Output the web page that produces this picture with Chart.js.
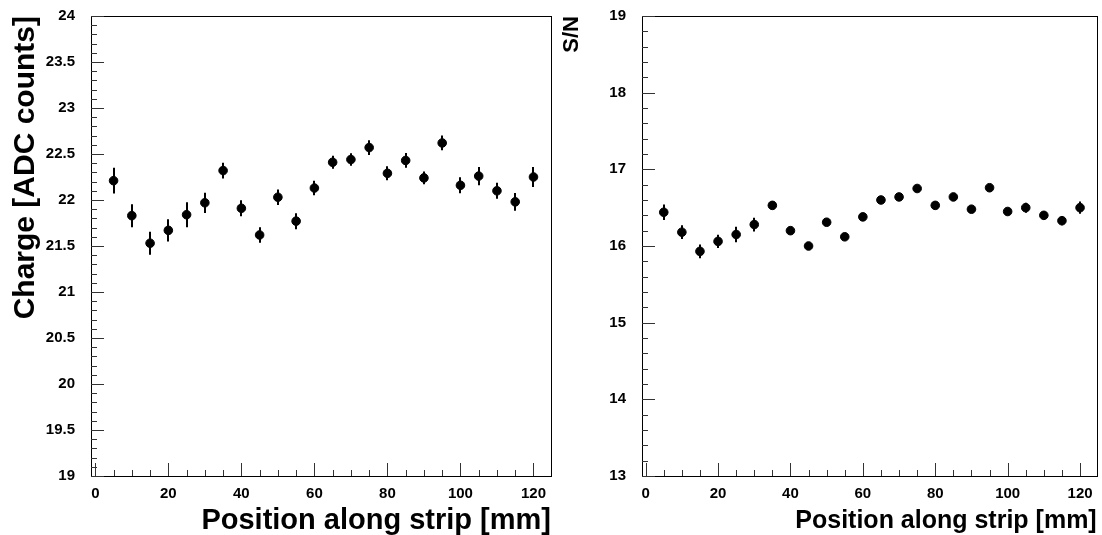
<!DOCTYPE html>
<html>
<head>
<meta charset="utf-8">
<script src="https://cdn.jsdelivr.net/npm/chart.js@4/dist/chart.umd.min.js"></script>
<style>
  body { margin: 0; background: #fff; width: 1102px; height: 535px; overflow: hidden; position: relative; }
  canvas { position: absolute; top: 0; }
  #chargeChart { left: 0; }
  #snChart { left: 560px; }
</style>
</head>
<body>
<canvas id="chargeChart" width="560" height="535"></canvas>
<canvas id="snChart" width="542" height="535"></canvas>
<script>
// positions along the strip [mm]
var positions = [5, 10, 15, 20, 25, 30, 35, 40, 45, 50, 55, 60, 65, 70, 75, 80, 85, 90, 95, 100, 105, 110, 115, 120];

// left plot: charge [ADC counts] with errors
var charge = [22.21, 21.83, 21.53, 21.67, 21.84, 21.97, 22.32, 21.91, 21.62, 22.03, 21.77, 22.13,
              22.41, 22.44, 22.57, 22.29, 22.43, 22.24, 22.62, 22.16, 22.26, 22.10, 21.98, 22.25];
var chargeErr = [0.14, 0.125, 0.125, 0.12, 0.135, 0.11, 0.085, 0.087, 0.085, 0.085, 0.087, 0.078,
                 0.07, 0.067, 0.08, 0.076, 0.08, 0.07, 0.08, 0.087, 0.1, 0.087, 0.096, 0.11];

// right plot: S/N with errors
var sn = [16.44, 16.18, 15.93, 16.06, 16.15, 16.28, 16.53, 16.20, 16.00, 16.31, 16.12, 16.38,
          16.60, 16.64, 16.75, 16.53, 16.64, 16.48, 16.76, 16.45, 16.50, 16.40, 16.33, 16.50];
var snErr = [0.1, 0.09, 0.09, 0.087, 0.1, 0.09, 0.05, 0.045, 0.045, 0.045, 0.045, 0.045,
             0.04, 0.04, 0.045, 0.045, 0.045, 0.045, 0.05, 0.05, 0.065, 0.05, 0.06, 0.08];

// tick labels
var xTicks = [0, 20, 40, 60, 80, 100, 120];
var chargeTicks = [19, 19.5, 20, 20.5, 21, 21.5, 22, 22.5, 23, 23.5, 24];
var snTicks = [13, 14, 15, 16, 17, 18, 19];

var tickFont = { family: "'Liberation Sans', Arial, sans-serif", size: 15, weight: 'bold' };

// error bars, frame and ROOT-like inside ticks
var rootStyle = {
    id: 'rootStyle',
    beforeDatasetsDraw: function (chart) {
        var ctx = chart.ctx;
        var ys = chart.scales.y;
        var xs = chart.scales.x;
        var errs = chart.options.plugins.rootStyle.errors;
        var vals = chart.data.datasets[0].data;
        ctx.save();
        ctx.strokeStyle = '#000';
        ctx.lineWidth = 2;
        for (var i = 0; i < vals.length; i++) {
            var px = Math.round(xs.getPixelForValue(vals[i].x));
            ctx.beginPath();
            ctx.moveTo(px, ys.getPixelForValue(vals[i].y - errs[i]));
            ctx.lineTo(px, ys.getPixelForValue(vals[i].y + errs[i]));
            ctx.stroke();
        }
        ctx.restore();
    },
    afterDraw: function (chart) {
        var ctx = chart.ctx;
        var a = chart.chartArea;
        var ys = chart.scales.y;
        var xs = chart.scales.x;
        var o = chart.options.plugins.rootStyle;
        ctx.save();
        ctx.strokeStyle = '#000';
        ctx.lineWidth = 1;
        ctx.strokeRect(Math.round(a.left) + 0.5, Math.round(a.top) + 0.5,
                       Math.round(a.right - a.left), Math.round(a.bottom - a.top));
        ctx.strokeStyle = '#333';
        ctx.beginPath();
        // y ticks
        var n = Math.round((ys.max - ys.min) / o.yMinor);
        for (var i = 0; i <= n; i++) {
            var v = ys.min + i * o.yMinor;
            var py = Math.round(ys.getPixelForValue(v)) + 0.5;
            var isMajor = Math.abs(v / o.yMajor - Math.round(v / o.yMajor)) < 1e-6;
            ctx.moveTo(a.left, py);
            ctx.lineTo(a.left + (isMajor ? 13 : 6), py);
        }
        // x ticks
        for (var x = 0; x <= 120; x += 5) {
            var px = Math.round(xs.getPixelForValue(x)) + 0.5;
            ctx.moveTo(px, a.bottom);
            ctx.lineTo(px, a.bottom - (x % 20 === 0 ? 13 : 6));
        }
        ctx.stroke();
        ctx.restore();
    }
};

function renderPlot(id_chart, values, errors, yTicks, yTitle, yTitleSize, yTitlePad, xTitleSize, xTitlePad, opts) {
    var ctx = document.getElementById(id_chart).getContext('2d');
    var points = positions.map(function (p, i) { return { x: p, y: values[i] }; });
    return new Chart(ctx, {
        type: 'scatter',
        data: {
            datasets: [{
                data: points,
                backgroundColor: '#000',
                borderColor: '#000',
                pointRadius: 4.3,
                pointHoverRadius: 4.3
            }]
        },
        options: {
            responsive: false,
            animation: false,
            devicePixelRatio: 1,
            layout: { padding: { top: 16, right: opts.padRight, left: 0, bottom: 0 } },
            plugins: {
                legend: { display: false },
                tooltip: { enabled: false },
                rootStyle: { errors: errors, yMajor: opts.yMajor, yMinor: opts.yMinor }
            },
            scales: {
                x: {
                    type: 'linear',
                    min: opts.xMin,
                    max: opts.xMax,
                    grid: { display: false, drawTicks: false },
                    border: { display: false },
                    afterBuildTicks: function (scale) {
                        scale.ticks = xTicks.map(function (v) { return { value: v }; });
                    },
                    afterFit: function (scale) {
                        scale.height = 59;
                        scale.paddingLeft = 0;
                        scale.paddingRight = 0;
                    },
                    ticks: {
                        color: '#000',
                        font: tickFont,
                        padding: 9,
                        maxRotation: 0,
                        callback: function (v) { return String(v); }
                    },
                    title: {
                        display: true,
                        text: 'Position along strip [mm]',
                        align: 'end',
                        color: '#000',
                        font: { family: "'Liberation Sans', Arial, sans-serif", size: xTitleSize, weight: 'bold', lineHeight: 1 },
                        padding: { top: 0, bottom: xTitlePad }
                    }
                },
                y: {
                    type: 'linear',
                    min: yTicks[0],
                    max: yTicks[yTicks.length - 1],
                    grid: { display: false, drawTicks: false },
                    border: { display: false },
                    afterBuildTicks: function (scale) {
                        scale.ticks = yTicks.map(function (v) { return { value: v }; });
                    },
                    afterFit: function (scale) {
                        scale.width = opts.yWidth;
                        scale.paddingTop = 0;
                        scale.paddingBottom = 0;
                    },
                    ticks: {
                        color: '#000',
                        font: tickFont,
                        padding: 16,
                        callback: function (v) { return String(v); }
                    },
                    title: {
                        display: true,
                        text: yTitle,
                        align: 'end',
                        color: '#000',
                        font: { family: "'Liberation Sans', Arial, sans-serif", size: yTitleSize, weight: 'bold', lineHeight: 1 },
                        padding: { top: yTitlePad, bottom: 0 }
                    }
                }
            }
        },
        plugins: [rootStyle]
    });
}

renderPlot('chargeChart', charge, chargeErr, chargeTicks, 'Charge [ADC counts]', 30, 11, 29, 0,
    { xMin: -1.18, xMax: 124.8, yWidth: 91, padRight: 9, yMajor: 0.5, yMinor: 0.1 });

renderPlot('snChart', sn, snErr, snTicks, 'S/N', 22, 0.5, 25, 1.5,
    { xMin: -1.01, xMax: 124.6, yWidth: 82, padRight: 1.5, yMajor: 1, yMinor: 0.2 });
</script>
</body>
</html>
